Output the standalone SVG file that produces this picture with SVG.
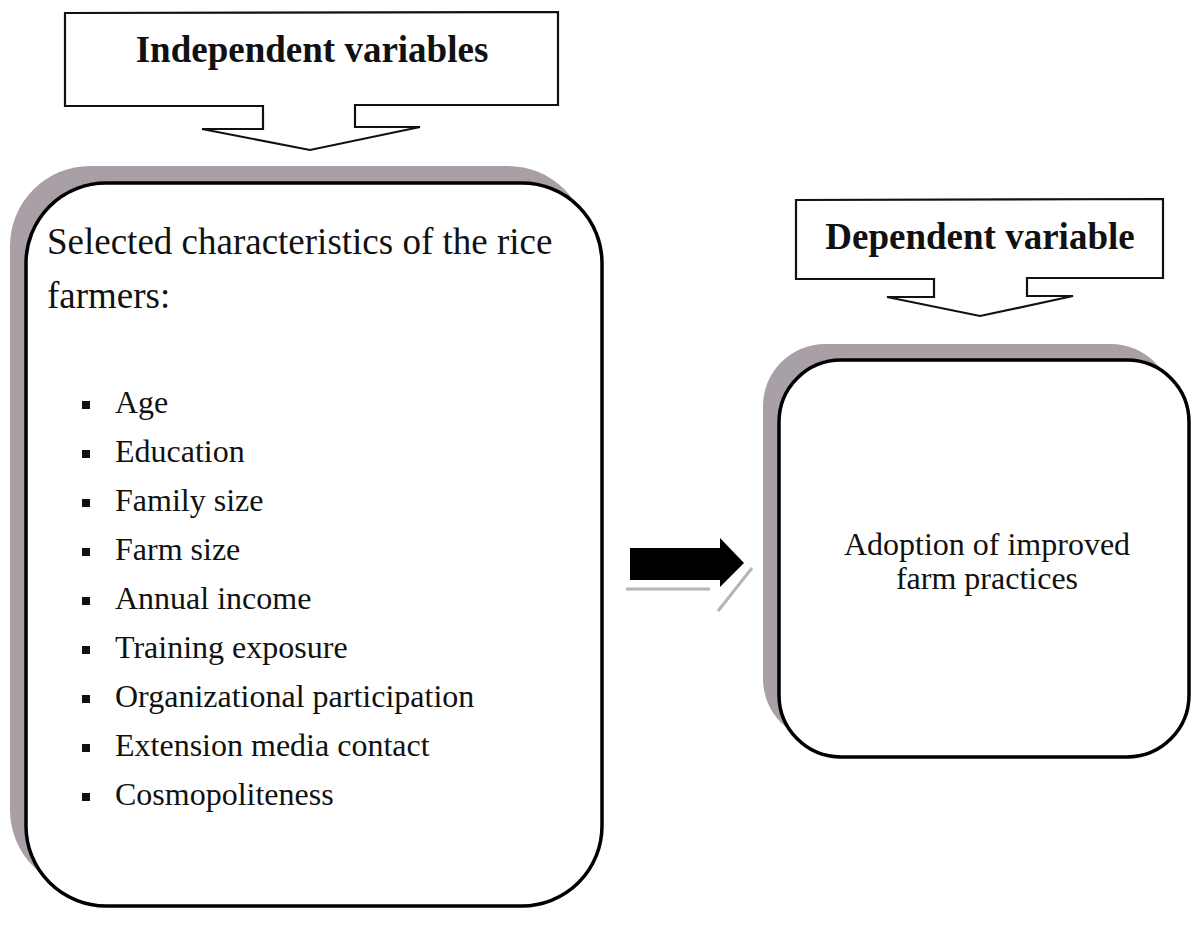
<svg xmlns="http://www.w3.org/2000/svg" width="1193" height="929" viewBox="0 0 1193 929">
<style>
.callout{fill:#fff;stroke:#111;stroke-width:2.2;stroke-linejoin:miter}
.shadow{fill:#a89fa7}
.box{fill:#fff;stroke:#000;stroke-width:3.5}
.hdr{font-family:"Liberation Serif",serif;font-weight:bold;font-size:37px;fill:#111}
.txt{font-family:"Liberation Serif",serif;font-size:32px;fill:#111}
.big{font-family:"Liberation Serif",serif;font-size:37px;fill:#111}
.bul{fill:#111}
</style>
<rect width="1193" height="929" fill="#fff"/>
<g id="independent-callout">
<path class="callout" d="M65,13 L558,12 L558,105 L355,105 L355,127 L420,127 L310,150 L202,129 L263,129 L263,106 L65,106 Z"/>
<text class="hdr" x="312" y="62" text-anchor="middle">Independent variables</text>
</g>
<g id="independent-box">
<rect class="shadow" x="10" y="166" width="578" height="724" rx="80" ry="80"/>
<rect class="box" x="26" y="183" width="576" height="723" rx="80" ry="80"/>
<text class="big" x="47" y="254">Selected characteristics of the rice</text>
<text class="big" x="47" y="308">farmers:</text>
<g class="txt">
<rect class="bul" x="82" y="401" width="8" height="8"/><text x="115" y="413">Age</text>
<rect class="bul" x="82" y="450" width="8" height="8"/><text x="115" y="462">Education</text>
<rect class="bul" x="82" y="499" width="8" height="8"/><text x="115" y="511">Family size</text>
<rect class="bul" x="82" y="548" width="8" height="8"/><text x="115" y="560">Farm size</text>
<rect class="bul" x="82" y="597" width="8" height="8"/><text x="115" y="609">Annual income</text>
<rect class="bul" x="82" y="646" width="8" height="8"/><text x="115" y="658">Training exposure</text>
<rect class="bul" x="82" y="695" width="8" height="8"/><text x="115" y="707">Organizational participation</text>
<rect class="bul" x="82" y="744" width="8" height="8"/><text x="115" y="756">Extension media contact</text>
<rect class="bul" x="82" y="793" width="8" height="8"/><text x="115" y="805">Cosmopoliteness</text>
</g>
</g>
<g id="dependent-callout">
<path class="callout" d="M796,200 L1163,199 L1163,278 L1027,278 L1027,296 L1073,296 L980,316 L887,297 L934,297 L934,279 L796,279 Z"/>
<text class="hdr" x="980" y="249" text-anchor="middle">Dependent variable</text>
</g>
<g id="dependent-box">
<rect class="shadow" x="763" y="344" width="410" height="397" rx="62" ry="62"/>
<rect class="box" x="779" y="360" width="410" height="397" rx="62" ry="62"/>
<text class="txt" x="987" y="555" text-anchor="middle" font-size="31">Adoption of improved</text>
<text class="txt" x="987" y="589" text-anchor="middle" font-size="31">farm practices</text>
</g>
<g id="connectors">
<line x1="626" y1="589" x2="710" y2="589" stroke="#b8b2ba" stroke-width="3"/>
<line x1="718" y1="611" x2="752" y2="568" stroke="#b8b2ba" stroke-width="3"/>
<path d="M630,548 L720,548 L720,538 L744,563 L720,587 L720,580 L630,580 Z" fill="#000"/>
</g>
</svg>
